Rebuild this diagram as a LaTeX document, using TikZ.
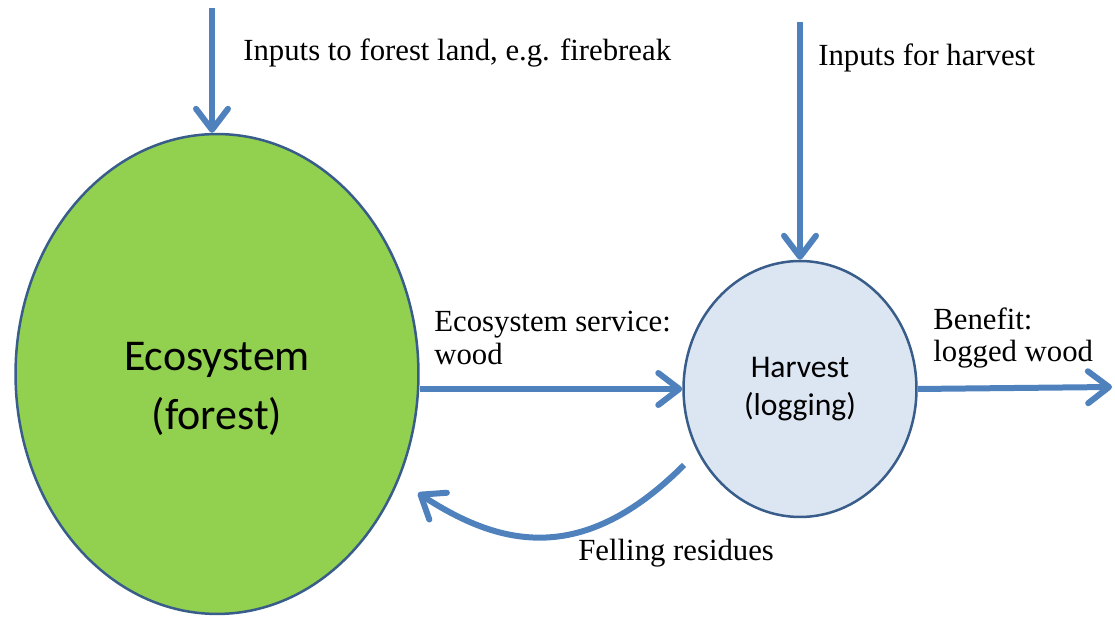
\documentclass[tikz,border=0pt]{standalone}
\usepackage{fontspec}
\setmainfont{Liberation Serif}
\newfontfamily\calibri{Carlito}
\usetikzlibrary{arrows.meta,shapes.geometric,positioning}
\definecolor{flowblue}{HTML}{4F81BD}
\definecolor{rimblue}{HTML}{385D8A}
\definecolor{forestgreen}{HTML}{92D050}
\definecolor{harvestblue}{HTML}{DCE6F2}

\begin{document}
\begin{tikzpicture}[x=0.02cm,y=0.02cm]
  \tikzstyle{flow}=[draw=flowblue,line width=0.12cm,
                    -{Straight Barb[length=0.42cm,width=0.64cm,line cap=round,line join=round]}]
  \tikzstyle{pool}=[ellipse,draw=rimblue,line width=0.05cm,inner sep=0pt,align=center]
  \tikzstyle{note}=[anchor=west,align=left,inner sep=0pt,
                    font=\fontsize{17.5}{18.5}\selectfont]

  \useasboundingbox (0,0) rectangle (1115,638);

  % the two pools
  \node [pool,fill=forestgreen,minimum width=8.06cm,minimum height=9.6cm] (eco) at (217,264) {};
  \node [align=center,font=\calibri\fontsize{25}{33.5}\selectfont] (ecoTxt)
        at ([yshift=-0.3cm]eco.center) {Ecosystem\\(forest)};
  \node [pool,fill=harvestblue,minimum width=4.66cm,minimum height=5.12cm,
         font=\calibri\fontsize{18}{21.5}\selectfont] (harv) at (800,249)
         {Harvest\\(logging)};

  % loose ends of the flows
  \coordinate (inEco) at (212,630);
  \coordinate (inHarv) at (800,616);
  \coordinate (out) at (1112,251);
  \coordinate (resStart) at (684,173);
  \coordinate (resEnd) at (418,145);

  \draw [flow] (inEco) -- (inEco |- eco.north);
  \draw [flow] (inHarv) -- (harv.north);
  \draw [flow] (harv.west -| eco.east) -- (harv.west);
  \draw [flow] (harv.east) -- (out);
  \draw [flow] (resStart) .. controls (584,73) and (502,90) .. (resEnd);

  % labels
  \node [note] (inEcoTxt) at (243,585) {Inputs to forest land, e.g. firebreak};
  \node [note] (inHarvTxt) at (818,580) {Inputs for harvest};
  \node [note] (serviceTxt) at (434,300) {Ecosystem service:\\ wood};
  \node [note] (benefitTxt) at (933,300) {Benefit:\\logged wood};
  \node [note] (residueTxt) at (578,85) {Felling residues};
\end{tikzpicture}
\end{document}
